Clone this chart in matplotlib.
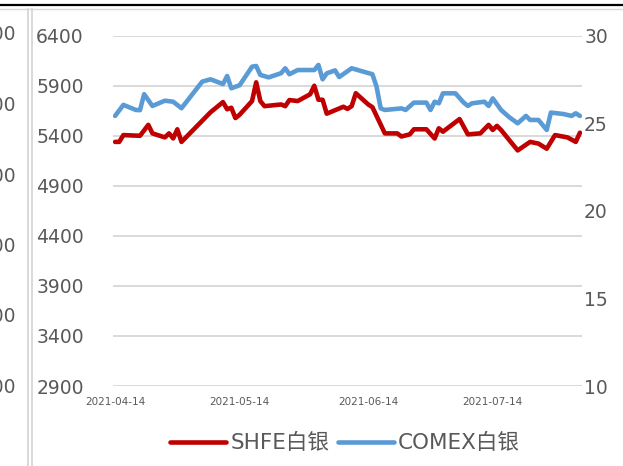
import matplotlib
matplotlib.use("Agg")
import matplotlib.pyplot as plt
import matplotlib.dates as mdates
import pandas as pd

plt.rcParams['font.family'] = ['DejaVu Sans', 'Noto Sans CJK SC']

# SHFE silver (left axis, yuan/kg)
shfe_dates = ["2021-04-14", "2021-04-15", "2021-04-16", "2021-04-20", "2021-04-22",
              "2021-04-23", "2021-04-26", "2021-04-27", "2021-04-28", "2021-04-29",
              "2021-04-30", "2021-05-07", "2021-05-10", "2021-05-11", "2021-05-12",
              "2021-05-13", "2021-05-14", "2021-05-17", "2021-05-18", "2021-05-19",
              "2021-05-20", "2021-05-24", "2021-05-25", "2021-05-26", "2021-05-28",
              "2021-05-31", "2021-06-01", "2021-06-02", "2021-06-03", "2021-06-04",
              "2021-06-08", "2021-06-09", "2021-06-10", "2021-06-11", "2021-06-14",
              "2021-06-15", "2021-06-18", "2021-06-21", "2021-06-22", "2021-06-24",
              "2021-06-25", "2021-06-28", "2021-06-30", "2021-07-01", "2021-07-02",
              "2021-07-06", "2021-07-08", "2021-07-11", "2021-07-13", "2021-07-14",
              "2021-07-15", "2021-07-16", "2021-07-20", "2021-07-23", "2021-07-25",
              "2021-07-27", "2021-07-29", "2021-08-01", "2021-08-03", "2021-08-04"]
shfe_price = [5339, 5339, 5407, 5400, 5509,
              5424, 5384, 5424, 5374, 5465,
              5339, 5635, 5737, 5665, 5680,
              5577, 5610, 5747, 5934, 5747,
              5696, 5713, 5696, 5757, 5747,
              5815, 5900, 5760, 5760, 5621,
              5690, 5669, 5696, 5825, 5713,
              5686, 5424, 5424, 5393, 5414,
              5465, 5465, 5373, 5475, 5441,
              5567, 5414, 5424, 5509, 5458,
              5499, 5458, 5254, 5339, 5322,
              5271, 5407, 5384, 5339, 5431]

# COMEX silver (right axis, USD/oz)
comex_dates = ["2021-04-14", "2021-04-16", "2021-04-19", "2021-04-20", "2021-04-21",
               "2021-04-23", "2021-04-26", "2021-04-28", "2021-04-30", "2021-05-05",
               "2021-05-07", "2021-05-10", "2021-05-11", "2021-05-12", "2021-05-14",
               "2021-05-17", "2021-05-18", "2021-05-19", "2021-05-21", "2021-05-24",
               "2021-05-25", "2021-05-26", "2021-05-28", "2021-06-01", "2021-06-02",
               "2021-06-03", "2021-06-04", "2021-06-06", "2021-06-07", "2021-06-10",
               "2021-06-15", "2021-06-16", "2021-06-17", "2021-06-18", "2021-06-22",
               "2021-06-23", "2021-06-25", "2021-06-28", "2021-06-29", "2021-06-30",
               "2021-07-01", "2021-07-02", "2021-07-05", "2021-07-07", "2021-07-08",
               "2021-07-09", "2021-07-12", "2021-07-13", "2021-07-14", "2021-07-16",
               "2021-07-18", "2021-07-20", "2021-07-22", "2021-07-23", "2021-07-25",
               "2021-07-27", "2021-07-28", "2021-07-31", "2021-08-02", "2021-08-03",
               "2021-08-04"]
comex_price = [25.42, 26.05, 25.76, 25.75, 26.66,
               25.99, 26.29, 26.23, 25.86, 27.38,
               27.51, 27.24, 27.70, 27.00, 27.17,
               28.23, 28.27, 27.76, 27.62, 27.86,
               28.14, 27.80, 28.04, 28.04, 28.33,
               27.51, 27.85, 28.02, 27.64, 28.14,
               27.80, 27.09, 25.85, 25.76, 25.85,
               25.76, 26.18, 26.18, 25.76, 26.23,
               26.14, 26.71, 26.71, 26.18, 25.99,
               26.14, 26.23, 25.99, 26.42, 25.76,
               25.34, 25.00, 25.42, 25.19, 25.19,
               24.62, 25.61, 25.53, 25.42, 25.57,
               25.42]

left_ticks = [2900, 3400, 3900, 4400, 4900, 5400, 5900, 6400]
right_ticks = [10, 15, 20, 25, 30]
x_ticks = ["2021-04-14", "2021-05-14", "2021-06-14", "2021-07-14"]
# labels of the neighbouring chart, cut off at the left edge like in the source
side_labels = ["6000", "5000", "4000", "3000", "2000", "1000"]

red = "#C00000"
blue = "#5B9BD5"
grey = "#595959"
gridc = "#D9D9D9"

fig = plt.figure(figsize=(6.23, 4.66), dpi=100)
ax = fig.add_axes([113 / 623, 1 - 386 / 466, 469 / 623, 350.3 / 466])
ax2 = ax.twinx()

l1, = ax.plot(pd.to_datetime(shfe_dates), shfe_price, color=red, lw=3.3,
              solid_capstyle="round", solid_joinstyle="round", label="SHFE白银")
l2, = ax2.plot(pd.to_datetime(comex_dates), comex_price, color=blue, lw=3.3,
               solid_capstyle="round", solid_joinstyle="round", label="COMEX白银")

ax.set_ylim(2900, 6400)
ax.set_yticks(left_ticks)
ax2.set_ylim(10, 30)
ax2.set_yticks(right_ticks)
ax.set_xlim(pd.Timestamp("2021-04-13 12:00"), pd.Timestamp("2021-08-04 12:00"))
ax.set_xticks(pd.to_datetime(x_ticks))
ax.xaxis.set_major_formatter(mdates.DateFormatter("%Y-%m-%d"))

ax.grid(axis="y", color=gridc, lw=1.4)
ax.set_axisbelow(True)
for a in (ax, ax2):
    for s in a.spines.values():
        s.set_visible(False)
ax.tick_params(axis="y", length=0, pad=21, labelsize=13.5, labelcolor=grey)
ax.tick_params(axis="x", length=0, pad=8, labelsize=7.5, labelcolor=grey)
ax2.tick_params(axis="y", length=0, pad=1.5, labelsize=13.5, labelcolor=grey)

fig.legend(handles=[l1, l2], loc="center", bbox_to_anchor=(345 / 623, 1 - 443 / 466),
           ncol=2, frameon=False, fontsize=15.5, labelcolor=grey,
           handlelength=2.6, handletextpad=0.2, columnspacing=0.4)

# frame remnants of the surrounding page
fig.add_artist(plt.Line2D([0, 1], [1 - 4.5 / 466] * 2, color="black", lw=1.6,
                          transform=fig.transFigure))
fig.add_artist(plt.Line2D([0, 1], [1 - 8.5 / 466] * 2, color=gridc, lw=1,
                          transform=fig.transFigure))
for xp in (27.5, 32):
    fig.add_artist(plt.Line2D([xp / 623] * 2, [0, 1 - 8.5 / 466], color=gridc, lw=1.4,
                              transform=fig.transFigure))
for i, lab in enumerate(side_labels):
    fig.text(16 / 623, 1 - (35 + i * 70.5) / 466, lab, ha="right", va="center",
             fontsize=13.5, color=grey)

fig.savefig("out.png", dpi=100)
